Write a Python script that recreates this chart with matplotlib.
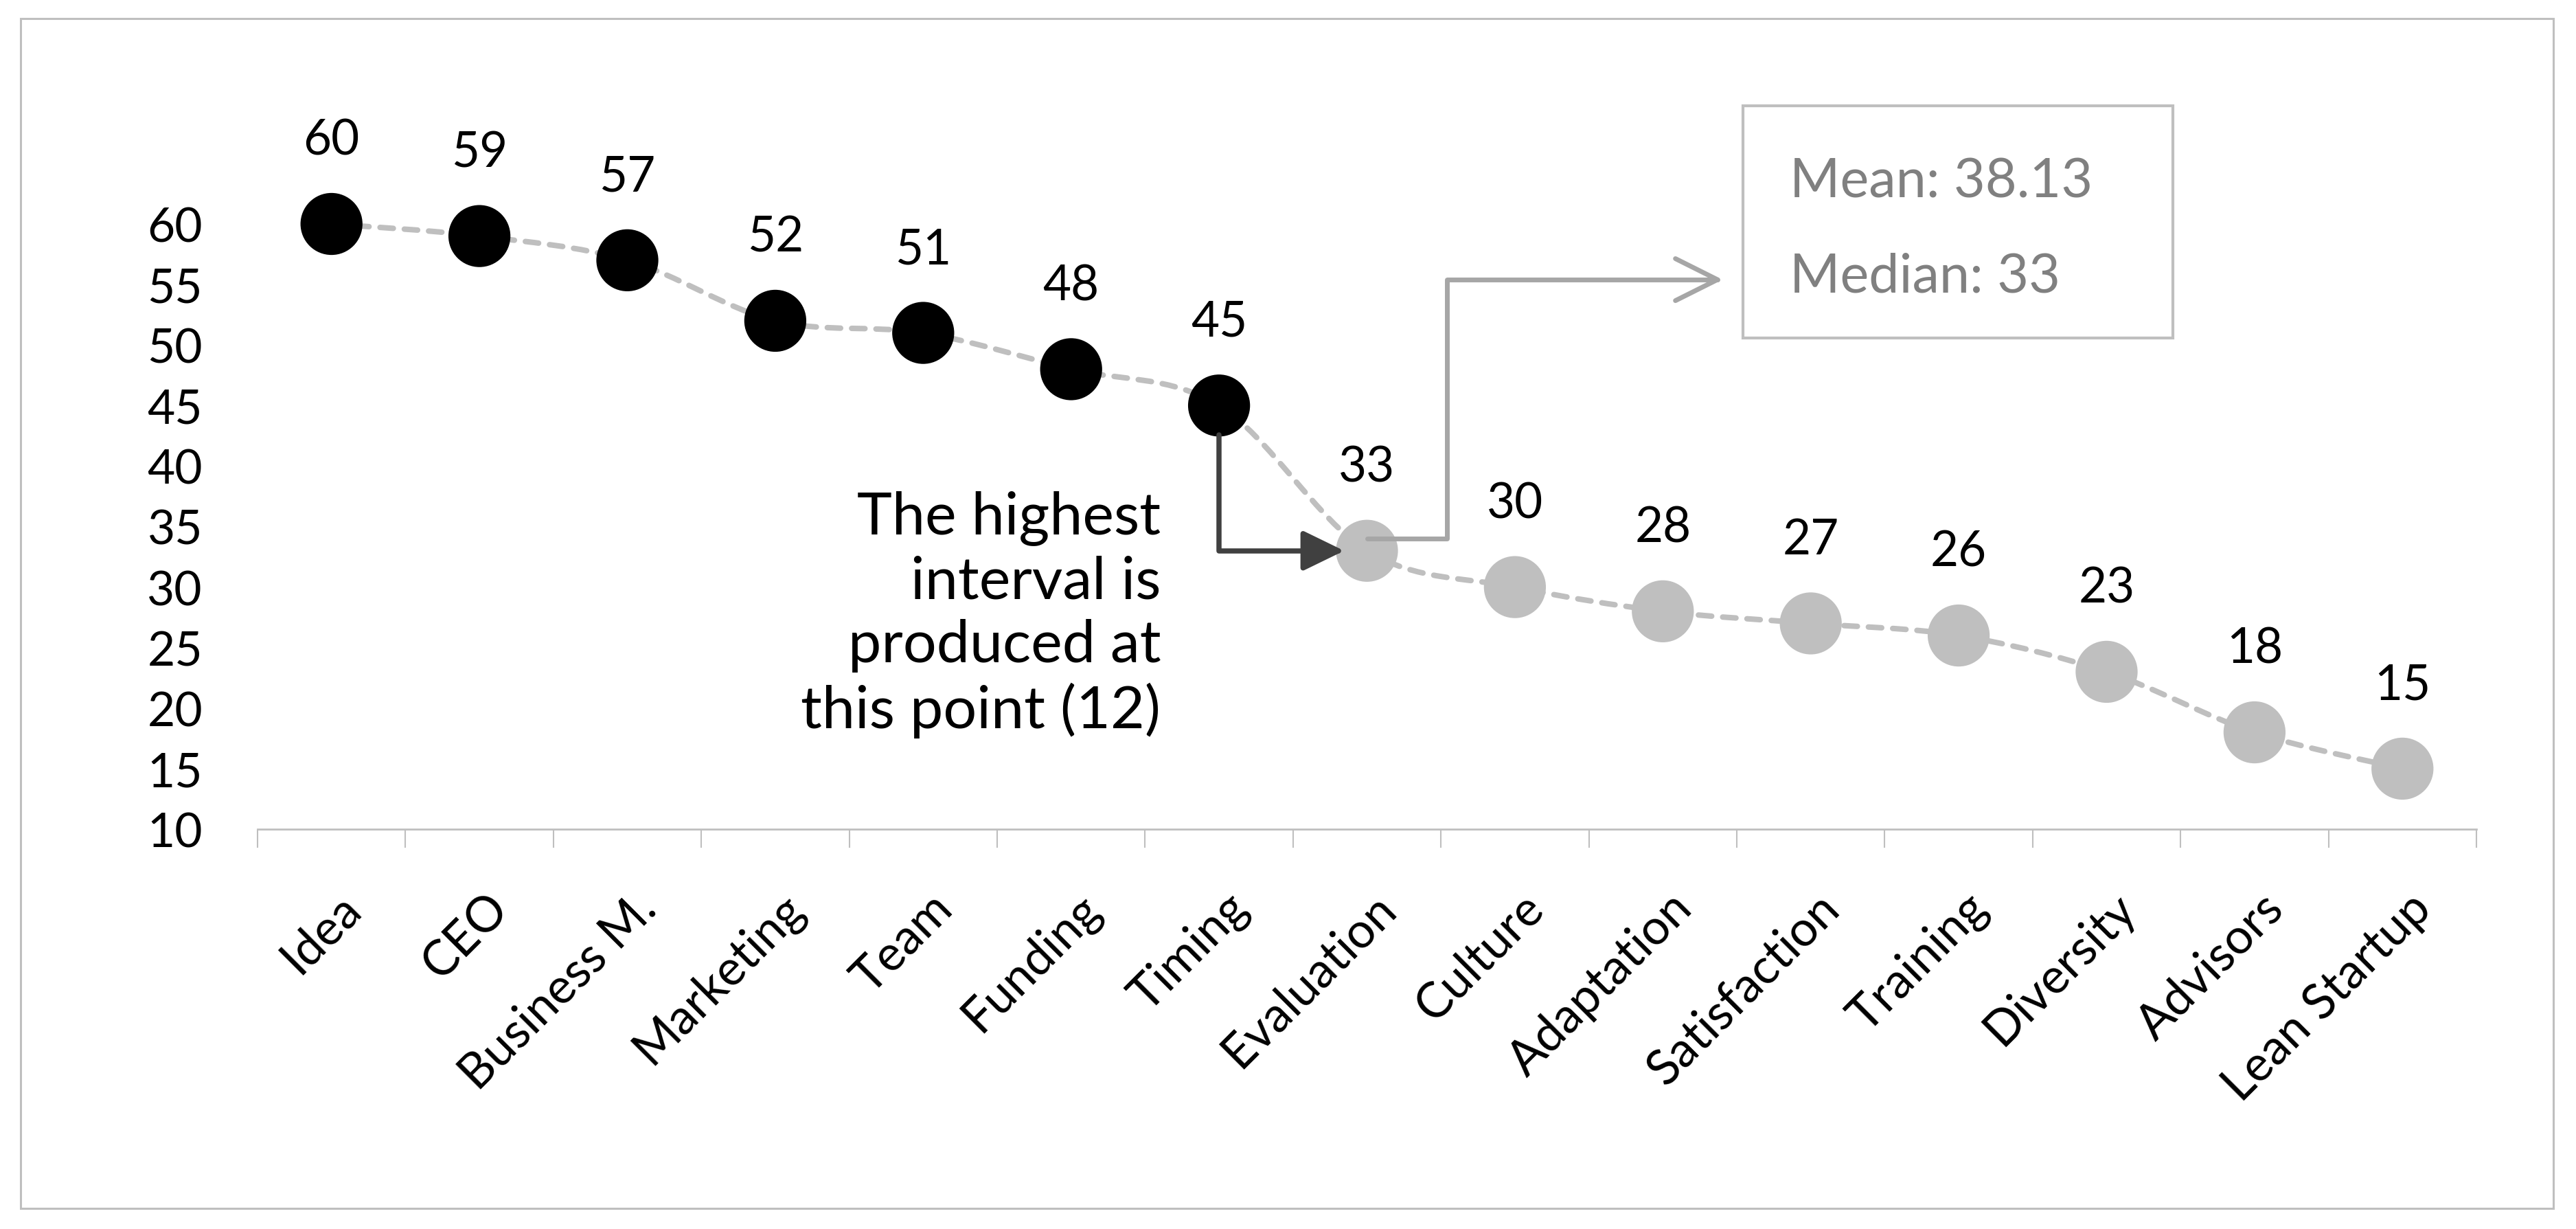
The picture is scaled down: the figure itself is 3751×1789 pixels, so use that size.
import numpy as np
import matplotlib
matplotlib.use('Agg')
import matplotlib.pyplot as plt
from matplotlib.path import Path
from matplotlib.patches import PathPatch, FancyArrowPatch, Rectangle
from matplotlib.transforms import ScaledTranslation

# data
categories = ['Idea', 'CEO', 'Business M.', 'Marketing', 'Team', 'Funding', 'Timing',
              'Evaluation', 'Culture', 'Adaptation', 'Satisfaction', 'Training',
              'Diversity', 'Advisors', 'Lean Startup']
values = [60, 59, 57, 52, 51, 48, 45, 33, 30, 28, 27, 26, 23, 18, 15]
y_ticks = [10, 15, 20, 25, 30, 35, 40, 45, 50, 55, 60]

plt.rcParams['font.family'] = ['Lato', 'DejaVu Sans']

x = np.arange(len(values))
y = np.array(values, dtype=float)

# where the biggest drop happens
drops = -np.diff(y)
i_gap = int(np.argmax(drops))
gap = int(drops[i_gap])
mean_val = np.mean(y)
median_val = np.median(y)

fig = plt.figure(figsize=(37.51, 17.90), dpi=100)
ax = fig.add_axes([375 / 3751, 1 - 1208 / 1790, (3606 - 375) / 3751, (1208 - 327) / 1790])

# outer frame
fig.add_artist(Rectangle((30 / 3751, 1 - 1760 / 1790), (3718 - 30) / 3751, (1760 - 28) / 1790,
                         transform=fig.transFigure, fill=False, ec='#BFBFBF', lw=2.2))

# smoothed dashed line (bezier through the points, like Excel's smoothing)
pts = np.column_stack([x, y])
verts = [pts[0]]
codes = [Path.MOVETO]
for i in range(len(pts) - 1):
    p0 = pts[max(i - 1, 0)]
    p1 = pts[i]
    p2 = pts[i + 1]
    p3 = pts[min(i + 2, len(pts) - 1)]
    verts += [p1 + (p2 - p0) / 6, p2 - (p3 - p1) / 6, p2]
    codes += [Path.CURVE4] * 3
ax.add_patch(PathPatch(Path(verts, codes), fill=False, ec='#BFBFBF', lw=5.8,
                       ls=(0, (2.4, 2.0)), capstyle='round', zorder=2, clip_on=False))

# markers: black before the drop, grey after
colors = ['black' if i <= i_gap else '#BFBFBF' for i in range(len(values))]
ax.scatter(x, y, s=65 ** 2, c=colors, linewidths=0, zorder=3, clip_on=False)

for xi, v in zip(x, values):
    ax.annotate(str(v), (xi, v), xytext=(0, 73), textcoords='offset points',
                ha='center', va='baseline', fontsize=51)

ax.set_xlim(-0.5, len(values) - 0.5)
ax.set_ylim(10, 60)
for s in ['top', 'right', 'left']:
    ax.spines[s].set_visible(False)
ax.spines['bottom'].set_color('#BFBFBF')
ax.spines['bottom'].set_linewidth(2)

ax.set_yticks(y_ticks)
ax.tick_params(axis='y', length=0, pad=57.6, labelsize=50)

ax.set_xticks(x)
ax.set_xticklabels(categories, rotation=45, ha='right', va='top', rotation_mode='anchor', fontsize=51)
ax.tick_params(axis='x', which='major', length=0, pad=58)
ax.set_xticks(np.arange(-0.5, len(values)), minor=True)
ax.tick_params(axis='x', which='minor', length=19.4, width=1.5, color='#BFBFBF')
shift = ScaledTranslation(8 / 100, 0, fig.dpi_scale_trans)
for lbl in ax.get_xticklabels():
    lbl.set_transform(lbl.get_transform() + shift)

# dark arrow from under the last black point to the first grey one
x0, x1 = i_gap, i_gap + 1
dark = FancyArrowPatch(path=Path([(x0, y[x0] - 2.4), (x0, y[x1]), (x1 - 0.154, y[x1])]),
                       arrowstyle='-|>,head_length=0.74,head_width=0.36', mutation_scale=50,
                       lw=5.4, color='#404040', transform=ax.transData, zorder=4, clip_on=False)
ax.add_patch(dark)

ax.text(5.606, 27.8, f"The highest\ninterval is\nproduced at\nthis point ({gap})",
        ha='right', va='center', fontsize=62, linespacing=1.23)

# grey elbow arrow to the stats box
grey = FancyArrowPatch(path=Path([(x1, y[x1] + 1), (7.54, y[x1] + 1), (7.54, 55.4), (9.405, 55.4)]),
                       arrowstyle='->,head_length=0.44,head_width=0.22', mutation_scale=100,
                       lw=5, color='#A6A6A6', transform=ax.transData, zorder=4, clip_on=False)
ax.add_patch(grey)

ax.add_patch(Rectangle((9.54, 50.58), 12.45 - 9.54, 69.76 - 50.58, fill=False,
                       ec='#BFBFBF', lw=3, clip_on=False))
ax.text(9.856, 63.86, f"Mean: {mean_val:.2f}", va='center_baseline', color='#808080', fontsize=57)
ax.text(9.856, 56.08, f"Median: {median_val:g}", va='center_baseline', color='#808080', fontsize=57)

fig.savefig('out.png', dpi=100, facecolor='white')
